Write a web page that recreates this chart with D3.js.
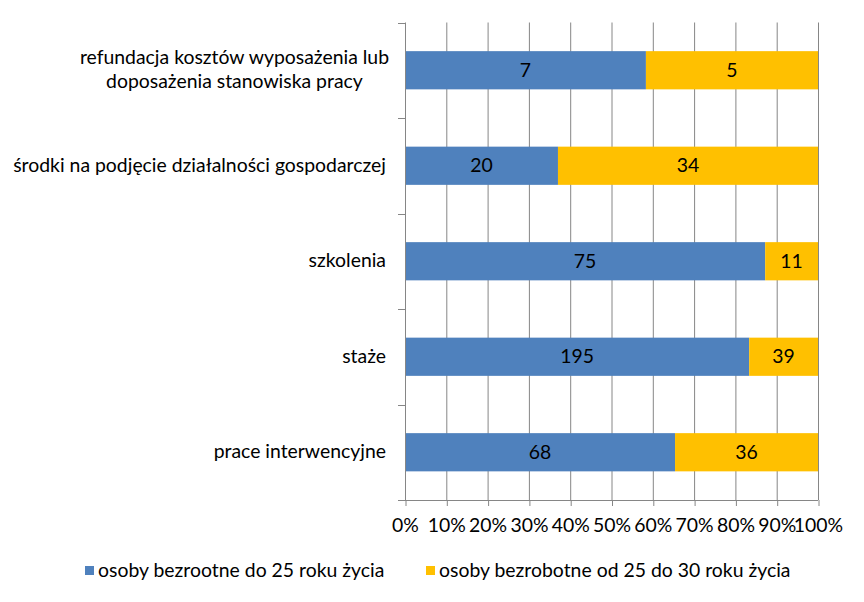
<!DOCTYPE html>
<html><head><meta charset="utf-8">
<script src="https://cdn.jsdelivr.net/npm/d3@7"></script>
<style>
body{margin:0;background:#fff;}
text{font-family:Lato,"Open Sans",sans-serif;fill:#000;}
</style></head>
<body><svg id="c" width="864" height="602"></svg>
<script>
const categories = [
  ["refundacja kosztów wyposażenia lub","doposażenia stanowiska pracy"],
  ["środki na podjęcie działalności gospodarczej"],
  ["szkolenia"],
  ["staże"],
  ["prace interwencyjne"]
];
const seriesNames = ["osoby bezrootne do 25 roku życia","osoby bezrobotne od 25 do 30 roku życia"];
const series1 = [7, 20, 75, 195, 68];
const series2 = [5, 34, 11, 39, 36];
const tickValues = [0,0.1,0.2,0.3,0.4,0.5,0.6,0.7,0.8,0.9,1];
const colors = ["#4F81BD","#FFC000"];

const svg = d3.select("#c");
const L = 405, R = 818, T = 22.5, B = 500;
const x = d3.scaleLinear().domain([0,1]).range([L,R]);
const y = d3.scaleBand().domain(d3.range(categories.length)).range([T,B]).paddingInner(0.6).paddingOuter(0.3);
const yb = d3.scaleBand().domain(d3.range(categories.length)).range([T,B]);
const fs = 19.4;

// gridlines
svg.append("g").selectAll("line").data(tickValues.slice(1)).join("line")
  .attr("x1",d=>x(d)+0.5).attr("x2",d=>x(d)+0.5).attr("y1",T).attr("y2",B)
  .attr("stroke","#868686").attr("stroke-width",1);

// bars
const stacked = categories.map((c,i)=>{
  const tot = series1[i]+series2[i];
  return [{s:0,v:series1[i],x0:0,x1:series1[i]/tot,i},{s:1,v:series2[i],x0:series1[i]/tot,x1:1,i}];
}).flat();
svg.append("g").selectAll("rect").data(stacked).join("rect")
  .attr("x",d=>x(d.x0)).attr("width",d=>x(d.x1)-x(d.x0))
  .attr("y",d=>y(d.i)).attr("height",y.bandwidth())
  .attr("fill",d=>colors[d.s]);
svg.append("g").selectAll("text").data(stacked).join("text")
  .attr("x",d=>(x(d.x0)+x(d.x1))/2).attr("y",d=>y(d.i)+y.bandwidth()/2)
  .attr("dy","0.33em").attr("text-anchor","middle").attr("font-size",fs)
  .text(d=>d.v);

// x axis
const xa = svg.append("g").attr("transform",`translate(0,${B})`)
  .call(d3.axisBottom(x).tickValues(tickValues).tickFormat(d3.format(".0%")).tickSize(6).tickSizeOuter(0));
xa.select(".domain").attr("stroke","#868686").attr("d",`M${L},0.5H${R}`);
xa.selectAll(".tick line").attr("stroke","#868686").attr("transform","translate(0.5,0)");
xa.selectAll(".tick text").attr("font-size",fs).attr("font-family","Lato").attr("fill","#000").attr("y",32).attr("dy","0");

// y axis
const ya = svg.append("g").attr("transform",`translate(${L},0)`);
ya.append("line").attr("x1",0.5).attr("x2",0.5).attr("y1",T).attr("y2",B).attr("stroke","#868686");
const yTicks = d3.range(categories.length+1).map(i=>T+i*yb.bandwidth());
ya.selectAll(".yt").data(yTicks).join("line").attr("class","yt")
  .attr("x1",-7).attr("x2",0.5).attr("y1",d=>Math.round(d)+0.5).attr("y2",d=>Math.round(d)+0.5).attr("stroke","#868686");

// category labels
const labelRight = 386;
categories.forEach((lines,i)=>{
  const cy = y(i)+y.bandwidth()/2;
  const g = svg.append("text").attr("font-size",fs).attr("text-anchor","end");
  if(lines.length===1){
    g.attr("x",labelRight).attr("y",cy).attr("dy","0.3em").text(lines[0]);
  } else {
    const t = svg.append("text").attr("font-size",fs).attr("visibility","hidden").text(lines[0]);
    const w = t.node().getComputedTextLength(); t.remove();
    const cx = labelRight + 3 - w/2;
    g.attr("text-anchor","middle");
    lines.forEach((ln,k)=>{
      g.append("tspan").attr("x",cx).attr("y",cy + (k - (lines.length-1)/2)*24).attr("dy","0.3em").text(ln);
    });
  }
});

// legend
const leg = svg.append("g");
const lx = [85, 426];
seriesNames.forEach((n,i)=>{
  leg.append("rect").attr("x",lx[i]).attr("y",566).attr("width",9).attr("height",9).attr("fill",colors[i]);
  leg.append("text").attr("x",lx[i]+13).attr("y",571).attr("dy","0.33em").attr("font-size",fs).text(n);
});
</script></body></html>
